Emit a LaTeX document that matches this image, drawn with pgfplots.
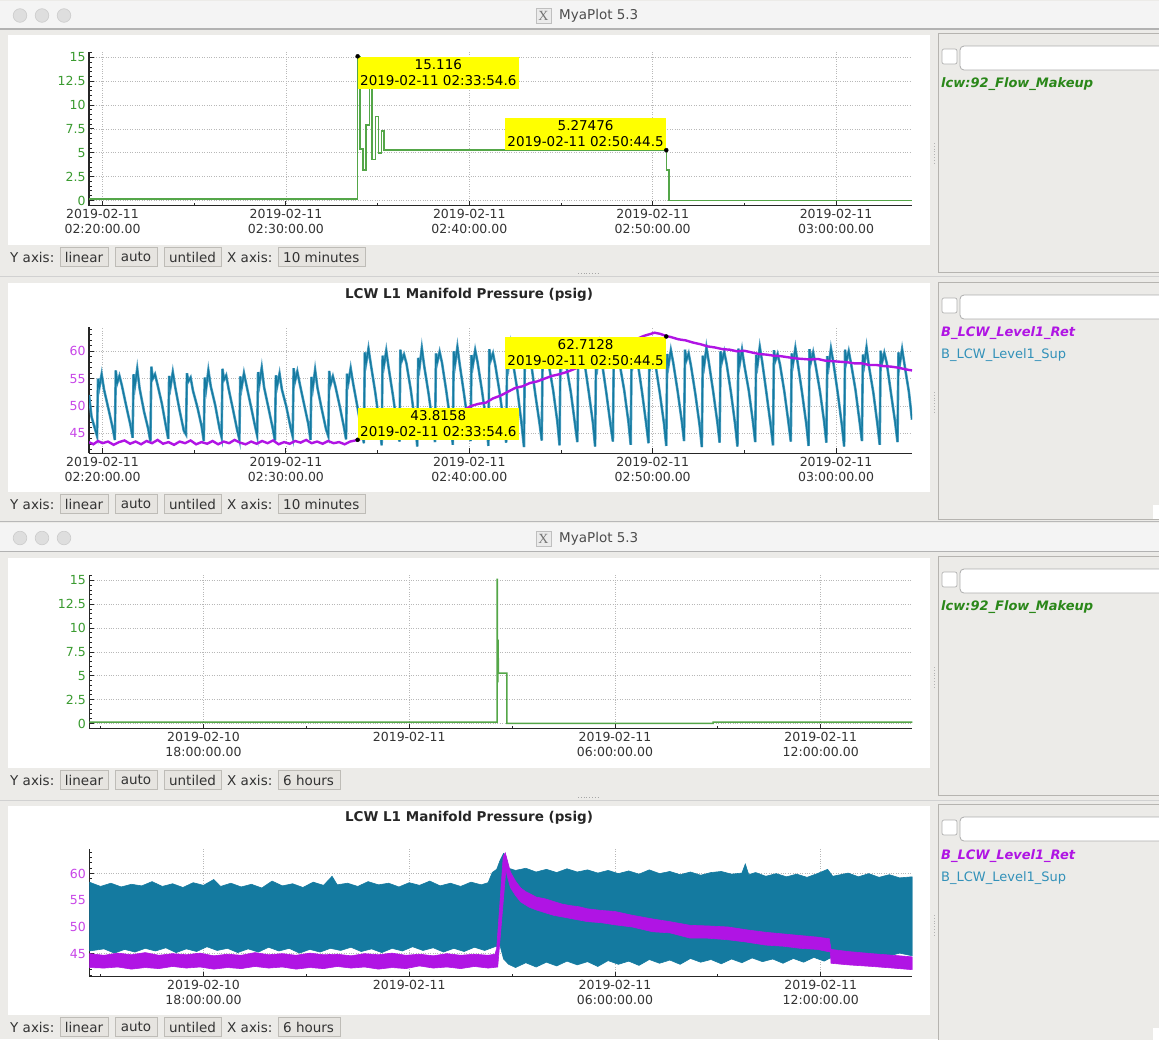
\documentclass[border=0pt]{standalone}
\usepackage{fontspec}
\setmainfont{DejaVu Sans}
\newfontfamily\serifx{Liberation Serif}
\usepackage{pgfplots}
\pgfplotsset{compat=1.18}
\definecolor{bgc}{RGB}{236,235,232}
\definecolor{titlebar}{RGB}{244,244,244}
\definecolor{gline}{RGB}{84,166,72}
\definecolor{glab}{RGB}{58,155,48}
\definecolor{glegend}{RGB}{42,135,25}
\definecolor{teal1}{RGB}{20,122,160}
\definecolor{teallight}{RGB}{80,160,195}
\definecolor{tlegend}{RGB}{50,145,185}
\definecolor{mag}{RGB}{176,20,228}
\definecolor{maglab}{RGB}{200,70,232}
\definecolor{yel}{RGB}{255,255,0}
\definecolor{sboxfill}{RGB}{230,228,224}
\definecolor{sboxdraw}{RGB}{190,188,183}
\definecolor{pborder}{RGB}{182,180,176}
\tikzset{
  sbox/.style={fill=sboxfill, draw=sboxdraw, line width=0.8pt},
  stat/.style={font=\fontsize{13.5}{16}\selectfont, text=black!80, inner sep=0pt},
  ann/.style={fill=yel, inner sep=0pt, minimum width=161pt, minimum height=32pt, align=center, font=\fontsize{13.5}{16}\selectfont, text=black},
}
\newcommand{\statusrow}[3]{%
  \node[stat, anchor=west] at (10,#1) {Y axis:};
  \draw[sbox] (60,#1-9.5) rectangle (108,#1+9.5); \node[stat] at (84,#1) {linear};
  \draw[sbox] (115,#1-9.5) rectangle (157,#1+9.5); \node[stat] at (136,#1) {auto};
  \draw[sbox] (164,#1-9.5) rectangle (221,#1+9.5); \node[stat] at (192.5,#1) {untiled};
  \node[stat, anchor=west] at (227,#1) {X axis:};
  \draw[sbox] (278,#1-9.5) rectangle (#3,#1+9.5); \node[stat, anchor=west] at (283,#1) {#2};
}
\newcommand{\legpanel}[2]{%
  \draw[fill=bgc, draw=pborder, line width=0.8pt] (938,#1) rectangle (1175,#2);
  \filldraw[fill=white, draw=black!30, rounded corners=2pt, line width=0.7pt] (942,#1+16) rectangle (957,#1+31);
  \filldraw[fill=white, draw=black!32, rounded corners=4pt, line width=0.8pt] (960,#1+13) rectangle (1175,#1+37);
}
\newcommand{\titlebar}[1]{%
  \fill[titlebar] (0,#1) rectangle (1159,#1+28);
  \draw[black!30, line width=1.2pt] (0,#1+28.5) -- (1159,#1+28.5);
  \foreach \cx in {20,42,64} {\filldraw[fill=black!13, draw=black!20, line width=0.6pt] (\cx,#1+15) circle[radius=6.8pt];}
  \filldraw[fill=black!8, draw=black!25, line width=0.6pt] (536,#1+8) rectangle (551,#1+23);
  \node[font=\serifx\fontsize{14}{14}\selectfont, text=black!55, inner sep=0pt] at (543.5,#1+15.5) {X};
  \node[font=\fontsize{13.5}{16}\selectfont, text=black!70, anchor=west, inner sep=0pt] at (559,#1+15.5) {MyaPlot 5.3};
}
\pgfplotsset{
  mya/.style={scale only axis, width=823pt,
    axis x line*=bottom, axis y line*=left,
    axis line style={-, line width=1.3pt, black!85},
    tick align=inside, major tick length=5pt, minor tick length=3pt,
    tick style={black!85, line width=0.9pt},
    grid=major, major grid style={dotted, line width=0.7pt, black!28},
    xticklabel style={align=center, font=\fontsize{12.5}{15}\selectfont, text=black!80},
    yticklabel style={font=\fontsize{12.5}{15}\selectfont},
    /pgf/number format/assume math mode=true,
    clip mode=individual},
  minx/.style={xmin=-0.74, xmax=44.14, xtick={0,10,20,30,40}, minor xtick={5,15,25,35},
    xticklabels={{2019-02-11\\02:20:00.00},{2019-02-11\\02:30:00.00},{2019-02-11\\02:40:00.00},{2019-02-11\\02:50:00.00},{2019-02-11\\03:00:00.00}}},
  hrx/.style={xmin=-9.33, xmax=14.67, xtick={-6,0,6,12}, minor xtick={-9,-3,3,9},
    xticklabels={{2019-02-10\\18:00:00.00},{2019-02-11},{2019-02-11\\06:00:00.00},{2019-02-11\\12:00:00.00}}},
  flowy/.style={ymin=-0.55, ymax=15.6, ytick={0,2.5,5,7.5,10,12.5,15}, yticklabels={0,2.5,5,7.5,10,12.5,15},
    minor ytick={0,0.5,...,15.5}, yticklabel style={text=glab}},
}
\begin{document}
\begin{tikzpicture}
\useasboundingbox (0pt,0pt) rectangle (1159pt,-1039pt);
\begin{scope}[x=1pt,y=-1pt]
  \fill[bgc] (0,0) rectangle (1159,1039);
  \titlebar{0.5}
  \draw[black!28, line width=1pt] (0,521) -- (1159,521);
  \titlebar{523}
  % white plot panels
  \fill[white] (8,35) rectangle (930,245);
  \fill[white] (8,283) rectangle (930,492);
  \fill[white] (8,558) rectangle (930,768);
  \fill[white] (8,806) rectangle (930,1015);
  % dividers
  \draw[black!18, line width=0.8pt] (0,276) -- (1159,276);
  \draw[black!18, line width=0.8pt] (0,800) -- (1159,800);
  \draw[black!35, dotted, line width=0.8pt] (578,273) -- (598,273);
  \draw[black!35, dotted, line width=0.8pt] (578,797) -- (598,797);
  \foreach \yy in {143,392,667,915} {\draw[black!30, dotted, line width=0.8pt] (934.5,\yy) -- (934.5,\yy+20);}
  % status rows
  \statusrow{257}{10 minutes}{365}
  \statusrow{504}{10 minutes}{365}
  \statusrow{780}{6 hours}{340}
  \statusrow{1027}{6 hours}{340}
  % legend panels
  \legpanel{33}{272}
  \legpanel{282}{519}
  \legpanel{556}{795}
  \legpanel{804}{1045}
  \fill[white] (1153,505) rectangle (1160,519);
  \fill[white] (1153,1028) rectangle (1160,1040);
  \node[anchor=west, inner sep=0pt, font=\bfseries\itshape\fontsize{13}{16}\selectfont, text=glegend] at (941,84) {lcw:92\_Flow\_Makeup};
  \node[anchor=west, inner sep=0pt, font=\bfseries\itshape\fontsize{13}{16}\selectfont, text=mag] at (941,333) {B\_LCW\_Level1\_Ret};
  \node[anchor=west, inner sep=0pt, font=\fontsize{13}{16}\selectfont, text=tlegend] at (941,355) {B\_LCW\_Level1\_Sup};
  \node[anchor=west, inner sep=0pt, font=\bfseries\itshape\fontsize{13}{16}\selectfont, text=glegend] at (941,607) {lcw:92\_Flow\_Makeup};
  \node[anchor=west, inner sep=0pt, font=\bfseries\itshape\fontsize{13}{16}\selectfont, text=mag] at (941,856) {B\_LCW\_Level1\_Ret};
  \node[anchor=west, inner sep=0pt, font=\fontsize{13}{16}\selectfont, text=tlegend] at (941,878) {B\_LCW\_Level1\_Sup};
  % titles
  \node[font=\bfseries\fontsize{13.5}{16}\selectfont, text=black!85, inner sep=0pt] at (469,295) {LCW L1 Manifold Pressure (psig)};
  \node[font=\bfseries\fontsize{13.5}{16}\selectfont, text=black!85, inner sep=0pt] at (469,818) {LCW L1 Manifold Pressure (psig)};
\end{scope}

% ---------- Plot 1: flow, 10 minutes ----------
\begin{axis}[mya, minx, flowy, at={(89pt,-205.7pt)}, anchor=south west, height=154pt]
\addplot[gline, line width=1.5pt] coordinates {
(-0.74,0.15) (13.91,0.15) (13.91,15.116) (14.04,15.116) (14.04,5.4) (14.19,5.4) (14.19,3.2) (14.37,3.2)
(14.37,7.9) (14.55,7.9) (14.55,11.8) (14.69,11.8) (14.69,4.3) (14.87,4.3) (14.87,8.8) (15.06,8.8)
(15.06,5.0) (15.22,5.0) (15.22,7.3) (15.35,7.3) (15.35,5.27476) (30.74,5.27476) (30.74,3.2) (30.9,3.2)
(30.9,0.0) (44.14,0.0)};
\node[ann, anchor=north west] at (axis cs:13.91,15.116) {15.116\\2019-02-11 02:33:54.6};
\node[ann, anchor=south east] at (axis cs:30.74,5.27476) {5.27476\\2019-02-11 02:50:44.5};
\addplot[only marks, mark=*, mark size=2pt, black] coordinates {(13.91,15.116) (30.74,5.27476)};
\end{axis}

% ---------- Plot 2: pressure, 10 minutes ----------
\begin{axis}[mya, minx, at={(89pt,-453.3pt)}, anchor=south west, height=126.6pt,
  ymin=41.35, ymax=64.5, ytick={45,50,55,60}, minor ytick={42,43,...,64}, yticklabel style={text=maglab}]
\addplot[teal1, line width=1.3pt, preaction={draw, teallight, line width=2.6pt}] coordinates {
(-0.74,52.0) (-0.6,48.0)
(-0.30,44.5) (-0.25,55.0) (-0.17,53.5) (-0.05,55.8) (0.08,53.0) (0.32,49.5) (0.55,46.0)
(0.67,43.8) (0.72,56.5) (0.80,54.2) (0.92,55.5) (1.05,53.8) (1.29,50.0) (1.52,46.5)
(1.64,44.2) (1.69,55.8) (1.77,53.8) (1.89,56.8) (2.02,53.2) (2.26,49.0) (2.49,45.8)
(2.61,43.5) (2.66,57.2) (2.74,55.0) (2.86,55.8) (2.99,54.0) (3.23,50.5) (3.46,46.2)
(3.58,44.0) (3.63,55.5) (3.71,53.6) (3.83,56.2) (3.96,53.5) (4.20,49.2) (4.43,45.5)
(4.55,44.8) (4.60,56.0) (4.68,54.5) (4.80,55.2) (4.93,52.8) (5.17,49.8) (5.40,46.3)
(5.52,43.6) (5.57,55.2) (5.65,53.2) (5.77,56.5) (5.90,53.6) (6.14,50.2) (6.37,46.0)
(6.49,44.3) (6.54,56.8) (6.62,54.8) (6.74,55.6) (6.87,53.2) (7.11,49.4) (7.34,45.6)
(7.46,43.9) (7.51,55.4) (7.59,53.5) (7.71,56.0) (7.84,53.9) (8.08,50.1) (8.31,46.4)
(8.43,44.6) (8.48,56.2) (8.56,54.2) (8.68,57.0) (8.81,53.4) (9.05,49.6) (9.28,45.9)
(9.40,43.7) (9.45,55.6) (9.53,53.8) (9.65,55.9) (9.78,53.0) (10.02,49.9) (10.25,46.1)
(10.37,44.4) (10.42,56.9) (10.50,54.6) (10.62,56.3) (10.75,54.1) (10.99,50.3) (11.22,46.7)
(11.34,43.8) (11.39,55.3) (11.47,53.4) (11.59,56.6) (11.72,53.3) (11.96,49.3) (12.19,45.7)
(12.31,44.5) (12.36,56.4) (12.44,54.0) (12.56,55.4) (12.69,53.7) (12.93,50.0) (13.16,46.2)
(13.28,43.9) (13.33,55.9) (13.41,54.4) (13.53,56.9) (13.66,54.2) (13.90,49.8) (14.13,45.4)
(14.25,43.2) (14.30,59.8) (14.38,58.0) (14.50,60.5) (14.63,57.6) (14.87,52.5) (15.10,46.8)
(15.22,42.8) (15.27,59.2) (15.35,57.5) (15.47,60.1) (15.60,57.0) (15.84,51.8) (16.07,46.2)
(16.19,43.5) (16.24,60.3) (16.32,58.3) (16.44,59.4) (16.57,57.8) (16.81,52.9) (17.04,47.0)
(17.16,42.6) (17.21,58.8) (17.29,57.2) (17.41,60.6) (17.54,57.3) (17.78,52.2) (18.01,46.5)
(18.13,43.4) (18.18,59.6) (18.26,58.1) (18.38,59.9) (18.51,57.9) (18.75,52.6) (18.98,46.9)
(19.10,42.9) (19.15,60.0) (19.23,57.8) (19.35,60.8) (19.48,57.5) (19.72,52.0) (19.95,46.3)
(20.07,43.6) (20.12,59.3) (20.20,57.6) (20.32,60.2) (20.45,58.0) (20.69,52.8) (20.92,47.2)
(21.04,42.7) (21.09,60.4) (21.17,58.4) (21.29,59.6) (21.42,57.4) (21.66,52.3) (21.89,46.6)
(22.01,43.3) (22.06,59.0) (22.14,57.3) (22.26,61.0) (22.39,57.7) (22.63,52.7) (22.86,46.4)
(22.98,42.5) (23.03,59.9) (23.11,58.2) (23.23,60.3) (23.36,58.1) (23.60,52.1) (23.83,46.8)
(23.95,43.7) (24.00,60.6) (24.08,58.0) (24.20,59.8) (24.33,57.6) (24.57,52.9) (24.80,47.1)
(24.92,42.8) (24.97,59.4) (25.05,57.7) (25.17,60.7) (25.30,57.2) (25.54,52.4) (25.77,46.5)
(25.89,43.4) (25.94,60.2) (26.02,58.5) (26.14,60.0) (26.27,58.2) (26.51,52.6) (26.74,46.9)
(26.86,42.6) (26.91,59.1) (26.99,57.4) (27.11,60.9) (27.24,57.8) (27.48,52.2) (27.71,46.3)
(27.83,43.5) (27.88,60.5) (27.96,58.3) (28.08,59.7) (28.21,57.5) (28.45,52.8) (28.68,47.0)
(28.80,42.9) (28.85,59.7) (28.93,57.9) (29.05,60.4) (29.18,58.0) (29.42,52.5) (29.65,46.6)
(29.77,43.2) (29.82,60.1) (29.90,58.1) (30.02,60.9) (30.15,57.6) (30.39,52.3) (30.62,46.7)
(30.74,42.7) (30.79,59.5) (30.87,57.6) (30.99,60.2) (31.12,57.9) (31.36,52.7) (31.59,47.1)
(31.71,43.6) (31.76,60.3) (31.84,58.4) (31.96,59.6) (32.09,57.3) (32.33,52.1) (32.56,46.4)
(32.68,42.5) (32.73,59.2) (32.81,57.5) (32.93,60.7) (33.06,58.0) (33.30,52.6) (33.53,46.9)
(33.65,43.3) (33.70,60.0) (33.78,58.2) (33.90,59.9) (34.03,57.7) (34.27,52.4) (34.50,46.5)
(34.62,42.6) (34.67,60.5) (34.75,57.8) (34.87,60.3) (35.00,57.4) (35.24,52.8) (35.47,47.0)
(35.59,43.4) (35.64,59.3) (35.72,57.6) (35.84,60.8) (35.97,58.1) (36.21,52.2) (36.44,46.3)
(36.56,42.8) (36.61,60.2) (36.69,58.3) (36.81,59.5) (36.94,57.6) (37.18,52.6) (37.41,46.8)
(37.53,43.5) (37.58,59.6) (37.66,57.9) (37.78,60.6) (37.91,57.8) (38.15,52.3) (38.38,46.6)
(38.50,42.7) (38.55,60.4) (38.63,58.1) (38.75,59.8) (38.88,57.5) (39.12,52.7) (39.35,47.1)
(39.47,43.3) (39.52,59.1) (39.60,57.4) (39.72,60.5) (39.85,58.0) (40.09,52.4) (40.32,46.4)
(40.44,42.6) (40.49,60.3) (40.57,58.2) (40.69,60.0) (40.82,57.7) (41.06,52.9) (41.29,46.9)
(41.41,43.6) (41.46,59.4) (41.54,57.7) (41.66,60.7) (41.79,57.3) (42.03,52.5) (42.26,46.5)
(42.38,42.9) (42.43,60.1) (42.51,58.0) (42.63,59.7) (42.76,57.9) (43.00,52.2) (43.23,46.8)
(43.35,43.4) (43.40,59.8) (43.48,57.8) (43.60,60.4) (43.73,57.6) (43.97,52.6) (44.14,47.5)};
\addplot[mag, line width=2.4pt] coordinates {
(-0.74,43.4) (-0.5,43.0) (-0.25,43.6) (0.0,43.2) (0.3,43.5) (0.6,42.9) (0.9,43.4) (1.2,43.7) (1.5,43.1)
(1.8,43.5) (2.1,43.0) (2.4,43.6) (2.7,43.2) (3.0,43.8) (3.3,43.1) (3.6,43.4) (3.9,42.9) (4.2,43.5)
(4.5,43.2) (4.8,43.7) (5.1,43.0) (5.4,43.4) (5.7,43.1) (6.0,43.6) (6.3,43.0) (6.6,43.5) (6.9,43.2)
(7.2,43.8) (7.5,43.3) (7.8,43.0) (8.1,43.5) (8.4,43.1) (8.7,43.6) (9.0,43.2) (9.3,43.7) (9.6,43.0)
(9.9,43.4) (10.2,43.1) (10.5,43.6) (10.8,43.3) (11.1,43.8) (11.4,43.2) (11.7,43.5) (12.0,43.1)
(12.3,43.6) (12.6,43.2) (12.9,43.4) (13.2,43.0) (13.5,43.5) (13.91,43.8) (14.5,44.4) (15.5,45.2)
(16.5,46.2) (17.5,47.3) (18.5,48.5) (19.3,49.4) (19.7,49.3) (20.1,50.0) (20.5,50.4) (20.9,50.6)
(21.3,51.4) (21.7,51.9) (22.1,52.6) (22.5,53.3) (22.9,53.6) (23.3,54.2) (23.7,54.5) (24.1,55.0)
(24.5,55.5) (24.9,55.8) (25.3,56.2) (25.6,56.6) (26.5,57.8) (27.5,59.5) (28.5,61.3) (29.5,62.8)
(29.8,63.1) (30.1,63.4) (30.4,63.2) (30.74,62.8) (31.0,62.6) (31.4,62.2) (31.8,62.0) (32.2,61.6)
(32.6,61.3) (33.0,60.9) (33.4,60.7) (33.8,60.4) (34.2,60.3) (34.6,60.0) (35.0,60.1) (35.4,59.8)
(35.8,59.5) (36.2,59.4) (36.6,59.2) (37.0,59.1) (37.4,58.9) (37.8,58.7) (38.2,58.6) (38.6,58.5)
(39.0,58.6) (39.4,58.3) (39.8,58.2) (40.2,58.1) (40.6,58.0) (41.0,57.8) (41.4,57.8) (41.8,57.5)
(42.2,57.5) (42.6,57.3) (43.0,57.2) (43.4,57.0) (43.8,56.7) (44.14,56.5)};
\node[ann, anchor=south west] at (axis cs:13.91,43.8158) {43.8158\\2019-02-11 02:33:54.6};
\node[ann, anchor=north east] at (axis cs:30.74,62.7128) {62.7128\\2019-02-11 02:50:44.5};
\addplot[only marks, mark=*, mark size=2pt, black] coordinates {(13.91,43.8158) (30.74,62.7128)};
\end{axis}

% ---------- Plot 3: flow, 6 hours ----------
\begin{axis}[mya, hrx, flowy, at={(89.3pt,-728.7pt)}, anchor=south west, height=154pt]
\addplot[gline, line width=1.5pt] coordinates {
(-9.33,0.15) (2.565,0.15) (2.565,15.1) (2.57,15.1) (2.57,4.3) (2.58,8.8) (2.585,4.3) (2.59,8.8)
(2.6,5.27) (2.846,5.27) (2.846,3.2) (2.85,3.2) (2.85,0.0) (8.86,0.0) (8.86,0.15) (14.67,0.15)};
\end{axis}

% ---------- Plot 4: pressure, 6 hours ----------
\begin{axis}[mya, hrx, at={(89.3pt,-976.6pt)}, anchor=south west, height=128.1pt,
  ymin=40.7, ymax=64.7, ytick={45,50,55,60}, minor ytick={41,42,...,64}, yticklabel style={text=maglab}]
\addplot[fill=teal1, draw=teal1, line width=0.6pt] coordinates {
(-9.33,58.4) (-9.0,57.6) (-8.7,58.2) (-8.4,57.5) (-8.1,58.0) (-7.8,57.7) (-7.5,58.5) (-7.2,57.6)
(-6.9,58.1) (-6.6,57.4) (-6.3,58.3) (-6.0,57.8) (-5.7,58.9) (-5.5,57.6) (-5.2,58.2) (-4.9,57.5)
(-4.6,58.0) (-4.3,57.3) (-4.0,58.6) (-3.7,57.7) (-3.4,58.1) (-3.1,57.4) (-2.8,58.4) (-2.5,57.8)
(-2.25,59.5) (-2.1,57.9) (-1.8,58.2) (-1.5,57.6) (-1.2,58.5) (-0.9,57.9) (-0.6,58.2) (-0.3,57.5)
(0.0,58.3) (0.3,57.8) (0.6,58.6) (0.9,57.7) (1.2,58.2) (1.5,57.6) (1.8,58.4) (2.1,57.9) (2.3,58.3)
(2.42,60.2) (2.55,60.8) (2.65,62.5) (2.75,63.8) (2.82,63.2) (2.9,61.0) (3.1,60.6) (3.4,61.0)
(3.7,60.3) (4.0,60.8) (4.3,60.2) (4.6,60.9) (4.9,60.3) (5.2,60.7) (5.5,60.1) (5.8,60.6) (6.1,60.0)
(6.4,60.5) (6.7,59.9) (7.0,60.7) (7.3,60.0) (7.6,60.4) (7.9,59.8) (8.2,60.3) (8.5,59.7) (8.8,60.2)
(9.1,60.4) (9.4,59.9) (9.7,60.1) (9.8,61.8) (9.9,59.8) (10.1,60.2) (10.4,59.5) (10.7,60.0)
(11.0,59.4) (11.3,59.9) (11.6,59.3) (11.9,60.0) (12.2,60.8) (12.35,59.5) (12.8,60.1) (13.1,59.4)
(13.4,60.0) (13.7,59.3) (14.0,59.8) (14.3,59.2) (14.67,59.4)
(14.67,44.6) (14.3,45.1) (13.9,44.4) (13.5,45.0) (13.1,44.5) (12.7,45.2) (12.4,44.6) (12.1,43.6)
(11.8,44.3) (11.5,43.4) (11.2,44.1) (10.9,43.2) (10.6,44.0) (10.3,43.5) (10.0,44.2) (9.7,43.3)
(9.4,44.0) (9.1,43.1) (8.8,43.9) (8.5,43.4) (8.2,44.1) (7.9,43.0) (7.6,43.8) (7.3,43.2) (7.0,43.9)
(6.7,42.8) (6.4,43.6) (6.1,43.0) (5.8,43.7) (5.5,42.6) (5.2,43.5) (4.9,42.9) (4.6,43.6) (4.3,42.7)
(4.0,43.4) (3.7,42.5) (3.4,43.3) (3.1,42.4) (2.9,43.0) (2.75,44.0) (2.65,46.5) (2.5,46.3) (2.2,45.6)
(1.9,46.2) (1.6,45.4) (1.3,46.0) (1.0,45.3) (0.7,46.1) (0.4,45.6) (0.1,46.3) (-0.2,45.5) (-0.5,46.0)
(-0.8,45.2) (-1.1,45.9) (-1.4,45.4) (-1.7,46.2) (-2.0,45.6) (-2.3,46.0) (-2.6,45.3) (-2.9,45.8)
(-3.2,45.1) (-3.5,46.0) (-3.8,45.5) (-4.1,46.2) (-4.4,45.3) (-4.7,45.9) (-5.0,45.2) (-5.3,46.0)
(-5.6,45.6) (-5.9,46.3) (-6.2,45.4) (-6.5,45.9) (-6.8,45.2) (-7.1,46.1) (-7.4,45.5) (-7.7,46.0)
(-8.0,45.3) (-8.3,45.8) (-8.6,45.1) (-8.9,45.9) (-9.33,45.5)} -- cycle;
\addplot[fill=mag, draw=mag, line width=0.6pt] coordinates {
(-9.33,45.0) (-8.9,44.7) (-8.5,45.1) (-8.1,44.8) (-7.7,45.2) (-7.3,44.7) (-6.9,45.0) (-6.5,44.8)
(-6.1,45.1) (-5.7,44.6) (-5.3,44.9) (-4.9,44.7) (-4.5,45.2) (-4.1,44.8) (-3.7,45.0) (-3.3,44.7)
(-2.9,45.1) (-2.5,44.8) (-2.1,44.9) (-1.7,44.6) (-1.3,45.0) (-0.9,44.8) (-0.5,45.1) (-0.1,44.7)
(0.3,44.9) (0.7,44.6) (1.1,45.0) (1.5,44.7) (1.9,44.9) (2.3,44.7) (2.5,44.9) (2.55,46.0) (2.74,63.2)
(2.8,63.9) (2.86,62.5) (2.95,60.3) (3.1,58.6) (3.25,57.3) (3.4,56.6) (3.5,56.3) (3.7,55.6) (3.95,55.3)
(4.2,54.8) (4.45,54.3) (4.7,54.0) (4.95,53.8) (5.2,53.4) (5.6,53.1) (6.0,52.9) (6.5,52.2) (7.1,51.5)
(7.6,51.0) (8.2,50.3) (8.7,50.2) (9.3,50.0) (9.8,49.5) (10.4,49.0) (10.9,48.7) (11.4,48.4) (11.9,48.1)
(12.25,47.8) (12.3,45.8) (12.8,45.4) (13.5,45.0) (14.1,44.7) (14.67,44.4)
(14.67,42.0) (14.1,42.3) (13.5,42.6) (12.8,42.9) (12.3,43.2) (12.28,45.3) (11.9,45.8) (11.4,46.0)
(10.9,46.4) (10.4,46.6) (9.8,47.2) (9.3,47.6) (8.7,47.9) (8.2,47.9) (7.6,48.9) (7.1,49.1) (6.5,50.0)
(6.0,50.4) (5.6,50.8) (5.2,51.0) (4.95,51.3) (4.7,51.6) (4.45,51.9) (4.2,52.2) (3.95,52.7) (3.7,53.2)
(3.5,53.7) (3.25,54.7) (3.1,55.9) (2.95,57.4) (2.86,59.5) (2.82,60.8) (2.6,44.0) (2.58,42.5)
(2.3,42.3) (1.9,42.6) (1.5,42.2) (1.1,42.5) (0.7,42.3) (0.3,42.7) (-0.1,42.2) (-0.5,42.4) (-0.9,42.1)
(-1.3,42.5) (-1.7,42.3) (-2.1,42.6) (-2.5,42.2) (-2.9,42.4) (-3.3,42.1) (-3.7,42.5) (-4.1,42.3)
(-4.5,42.6) (-4.9,42.2) (-5.3,42.4) (-5.7,42.1) (-6.1,42.5) (-6.5,42.3) (-6.9,42.6) (-7.3,42.2)
(-7.7,42.4) (-8.1,42.1) (-8.5,42.5) (-8.9,42.3) (-9.33,42.4)} -- cycle;
\end{axis}
\end{tikzpicture}
\end{document}
